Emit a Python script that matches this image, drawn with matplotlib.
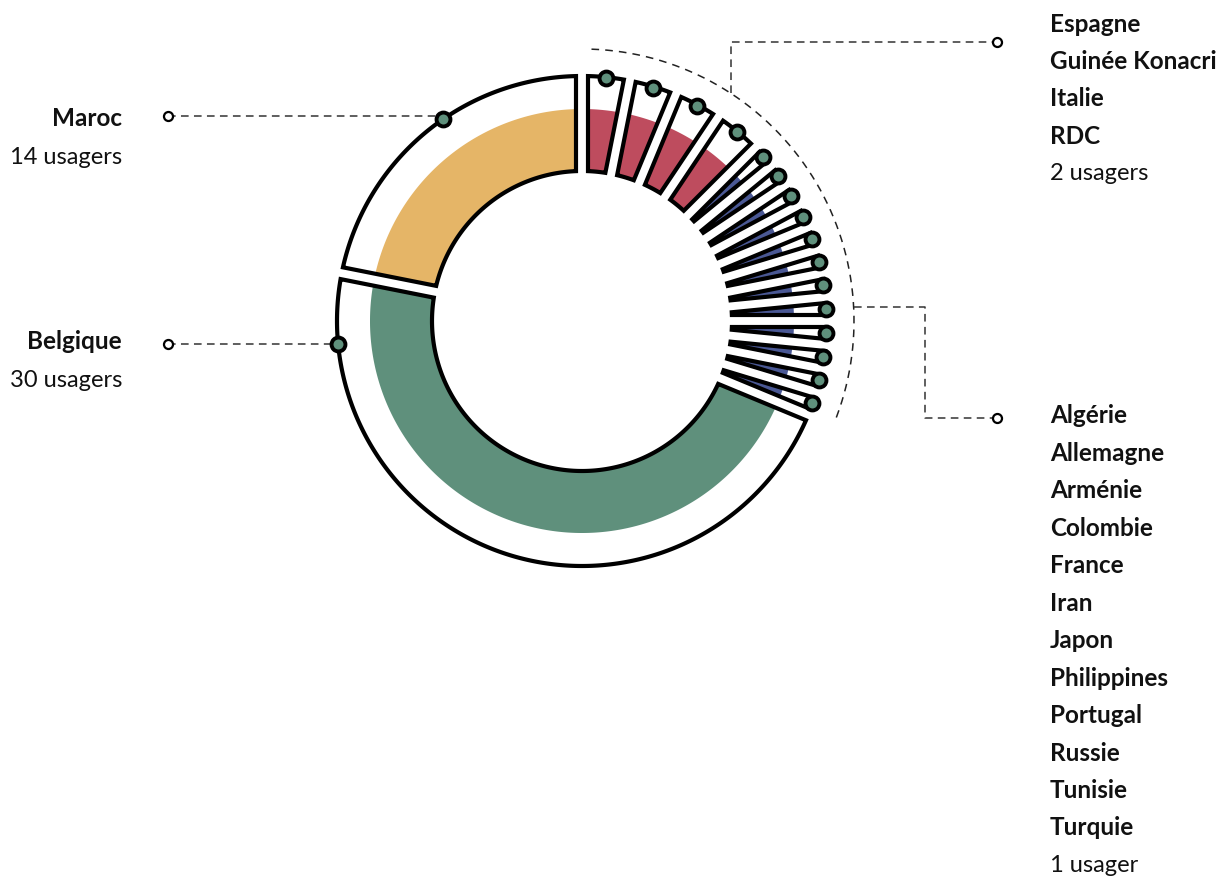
import numpy as np
import matplotlib.pyplot as plt
from matplotlib.patches import Polygon

# data
countries = ['Espagne', 'Guinée Konacri', 'Italie', 'RDC',
             'Algérie', 'Allemagne', 'Arménie', 'Colombie', 'France', 'Iran',
             'Japon', 'Philippines', 'Portugal', 'Russie', 'Tunisie', 'Turquie',
             'Belgique', 'Maroc']
counts = [2, 2, 2, 2,
          1, 1, 1, 1, 1, 1, 1, 1, 1, 1, 1, 1,
          30, 14]
group = ['deux'] * 4 + ['un'] * 12 + ['Belgique', 'Maroc']

group_colors = {'deux': '#be4c5e', 'un': '#4a5894',
                'Belgique': '#5f907c', 'Maroc': '#e5b567'}
dot_color = '#5f907c'

names_deux = countries[:4]
names_un = countries[4:16]
label_deux = '2 usagers'
label_un = '1 usager'
label_maroc = '14 usagers'
label_belgique = '30 usagers'

# layout
W, H = 1222, 878
cx, cy = 582, 322
r_in, r_fill, r_out = 150, 212, 245
r_dash = 272
pad = 12
lw = 3.0

plt.rcParams['font.family'] = ['Lato', 'DejaVu Sans']

fig = plt.figure(figsize=(W / 100, H / 100), dpi=100)
ax = fig.add_axes([0, 0, 1, 1])
ax.set_xlim(0, W)
ax.set_ylim(H, 0)
ax.set_aspect('equal')
ax.axis('off')


def pt(t, r):
    # t: degrees clockwise from 12 o'clock
    t = np.radians(t)
    return cx + r * np.sin(t), cy - r * np.cos(t)


def arc_poly(a0, a1, r0, r1):
    p1 = np.degrees(np.arcsin(pad / 2 / r1))
    p0 = np.degrees(np.arcsin(pad / 2 / r0))
    o0, o1 = a0 + p1, a1 - p1
    i0, i1 = a0 + p0, a1 - p0
    if i0 > i1:
        i0 = i1 = (a0 + a1) / 2
    t_out = np.linspace(o0, o1, max(2, int((o1 - o0) * 3)))
    t_in = np.linspace(i1, i0, max(2, int((i1 - i0) * 3)))
    xo, yo = pt(t_out, r1)
    xi, yi = pt(t_in, r0)
    return np.column_stack([np.concatenate([xo, xi]), np.concatenate([yo, yi])])


total = sum(counts)
edges = np.concatenate([[0], np.cumsum(counts)]) / total * 360

for i, c in enumerate(counts):
    a0, a1 = edges[i], edges[i + 1]
    col = group_colors[group[i]]
    ax.add_patch(Polygon(arc_poly(a0, a1, r_in, r_fill), closed=True,
                         facecolor=col, edgecolor='none', zorder=2))
    ax.add_patch(Polygon(arc_poly(a0, a1, r_in, r_out), closed=True,
                         facecolor='none', edgecolor='black', lw=lw,
                         joinstyle='miter', zorder=3))
    if group[i] in ('deux', 'un'):
        x, y = pt((a0 + a1) / 2, r_out - 1)
        ax.plot(x, y, 'o', ms=10, mfc=dot_color, mec='black', mew=2.8, zorder=5)

# dashed arc round the small countries
t = np.linspace(edges[0] + 2, edges[16] - 1.5, 200)
x, y = pt(t, r_dash)
ax.plot(x, y, color='#222222', lw=1.1, ls=(0, (5, 4)), zorder=1)

dash = dict(color='#333333', lw=1.1, ls=(0, (5, 3.5)), zorder=1)
end = dict(marker='o', ms=6.5, mfc='white', mec='black', mew=1.6, zorder=4)

# top-right leader
t_top = np.degrees(np.arcsin((731 - cx) / r_dash))
x0, y0 = pt(t_top, r_dash)
ax.plot([x0, x0, 997], [y0, 43, 43], **dash)
ax.plot(997, 43, **end)

# bottom-right leader
t_bot = np.degrees(np.arccos((cy - 308) / r_dash))
x0, y0 = pt(t_bot, r_dash)
ax.plot([x0, 925, 925, 997], [y0, y0, 419, 419], **dash)
ax.plot(997, 419, **end)

# left leaders
for t_lab, y_lab in [(325.5, 117), (264.6, 345)]:
    x0, y0 = pt(t_lab, r_out)
    ax.plot([168, x0], [y_lab, y_lab], **dash)
    ax.plot(168, y_lab, **end)
    ax.plot(x0, y0, 'o', ms=10, mfc=dot_color, mec='black', mew=2.8, zorder=5)

fs_b = 17.5
fs_r = 17
txt = '#111111'
ax.text(122, 118, 'Maroc', ha='right', va='center', fontsize=fs_b, fontweight='bold', color=txt)
ax.text(122, 157, label_maroc, ha='right', va='center', fontsize=fs_r, color=txt)
ax.text(122, 342, 'Belgique', ha='right', va='center', fontsize=fs_b, fontweight='bold', color=txt)
ax.text(122, 381, label_belgique, ha='right', va='center', fontsize=fs_r, color=txt)

step = 37.45
for k, n in enumerate(names_deux):
    ax.text(1050, 24 + k * step, n, ha='left', va='center', fontsize=fs_b, fontweight='bold', color=txt)
ax.text(1050, 24 + 4 * step, label_deux, ha='left', va='center', fontsize=fs_r, color=txt)

for k, n in enumerate(names_un):
    ax.text(1050, 416 + k * step, n, ha='left', va='center', fontsize=fs_b, fontweight='bold', color=txt)
ax.text(1050, 416 + 12 * step, label_un, ha='left', va='center', fontsize=fs_r, color=txt)

fig.savefig('out.png', dpi=100, facecolor='white')
